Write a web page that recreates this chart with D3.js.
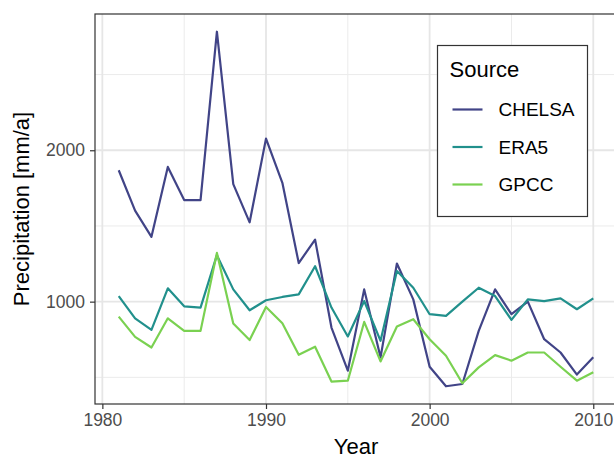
<!DOCTYPE html>
<html>
<head>
<meta charset="utf-8">
<script src="https://cdn.jsdelivr.net/npm/d3@7"></script>
<style>
  body { margin: 0; background: #fff; }
  svg { display: block; font-family: "Liberation Sans", Arial, sans-serif; }
</style>
</head>
<body>
<div id="chart"></div>
<script>
// values
const years = d3.range(1981, 2011);
const sources = ['CHELSA', 'ERA5', 'GPCC'];
const chelsa = [1868, 1601, 1428, 1890, 1671, 1671, 2783, 1776, 1524, 2077,
                1785, 1255, 1410, 829, 544, 1081, 632, 1252, 1015, 570,
                441, 456, 807, 1081, 917, 1000, 752, 664, 518, 632];
const era5 = [1037, 890, 814, 1088, 969, 961, 1307, 1081, 943, 1009,
              1031, 1048, 1234, 961, 770, 1004, 741, 1202, 1092, 917,
              906, 1000, 1092, 1037, 880, 1015, 1004, 1022, 950, 1022];
const gpcc = [901, 767, 697, 890, 807, 807, 1322, 855, 746, 965,
              857, 649, 702, 472, 478, 866, 605, 836, 884, 752,
              643, 461, 566, 647, 610, 664, 664, 570, 478, 533];
const xTicks = [1980, 1990, 2000, 2010];
const yTicks = [1000, 2000];
const colors = ['#414487', '#21908C', '#7AD151'];

const series = [chelsa, era5, gpcc].map((vals, i) => ({
    name: sources[i],
    color: colors[i],
    values: vals.map((v, j) => ({ year: years[j], value: v }))
}));

const width = 614, height = 457;
const panel = { left: 95, top: 14, right: 617, bottom: 404 };

const svg = d3.select('#chart').append('svg')
    .attr('width', width)
    .attr('height', height);

// ggplot style 5% expansion
const xExt = d3.extent(years);
const xPad = (xExt[1] - xExt[0]) * 0.05;
const allVals = chelsa.concat(era5, gpcc);
const yExt = d3.extent(allVals);
const yPad = (yExt[1] - yExt[0]) * 0.05;

const x = d3.scaleLinear()
    .domain([xExt[0] - xPad, xExt[1] + xPad])
    .range([panel.left, panel.right]);
const y = d3.scaleLinear()
    .domain([yExt[0] - yPad, yExt[1] + yPad])
    .range([panel.bottom, panel.top]);

// grid lines
const grid = svg.append('g');
const xMinor = [1985, 1995, 2005];
const yMinor = [500, 1500, 2500];
grid.selectAll('.vminor').data(xMinor).enter().append('line')
    .attr('x1', d => x(d)).attr('x2', d => x(d))
    .attr('y1', panel.top).attr('y2', panel.bottom)
    .attr('stroke', '#ebebeb').attr('stroke-width', 1);
grid.selectAll('.hminor').data(yMinor).enter().append('line')
    .attr('x1', panel.left).attr('x2', panel.right)
    .attr('y1', d => y(d)).attr('y2', d => y(d))
    .attr('stroke', '#ebebeb').attr('stroke-width', 1);
grid.selectAll('.vmajor').data(xTicks).enter().append('line')
    .attr('x1', d => x(d)).attr('x2', d => x(d))
    .attr('y1', panel.top).attr('y2', panel.bottom)
    .attr('stroke', '#e6e6e6').attr('stroke-width', 1.8);
grid.selectAll('.hmajor').data(yTicks).enter().append('line')
    .attr('x1', panel.left).attr('x2', panel.right)
    .attr('y1', d => y(d)).attr('y2', d => y(d))
    .attr('stroke', '#e6e6e6').attr('stroke-width', 1.8);

// lines
const line = d3.line()
    .x(d => x(d.year))
    .y(d => y(d.value));
svg.append('g').selectAll('path')
    .data(series)
    .enter().append('path')
    .attr('d', d => line(d.values))
    .attr('fill', 'none')
    .attr('stroke', d => d.color)
    .attr('stroke-width', 2.2)
    .attr('stroke-linejoin', 'round');

// panel border
svg.append('rect')
    .attr('x', panel.left).attr('y', panel.top)
    .attr('width', panel.right - panel.left)
    .attr('height', panel.bottom - panel.top)
    .attr('fill', 'none')
    .attr('stroke', '#333')
    .attr('stroke-width', 1.2);

// axes
const xAxis = svg.append('g')
    .attr('transform', `translate(0,${panel.bottom})`)
    .call(d3.axisBottom(x).tickValues(xTicks).tickFormat(d3.format('d')).tickSizeOuter(0).tickSize(5).tickPadding(5));
const yAxis = svg.append('g')
    .attr('transform', `translate(${panel.left},0)`)
    .call(d3.axisLeft(y).tickValues(yTicks).tickFormat(d3.format('d')).tickSizeOuter(0).tickSize(5).tickPadding(5));
[xAxis, yAxis].forEach(a => {
    a.select('.domain').remove();
    a.selectAll('.tick line').attr('stroke', '#333').attr('stroke-width', 1.2);
    a.selectAll('.tick text')
        .attr('fill', '#4d4d4d')
        .style('font-size', '17.5px')
        .style('font-family', '"Liberation Sans", Arial, sans-serif');
});

// axis titles
svg.append('text')
    .attr('x', (panel.left + panel.right) / 2)
    .attr('y', 454)
    .attr('text-anchor', 'middle')
    .style('font-size', '22px')
    .text('Year');
svg.append('text')
    .attr('transform', `translate(29,${(panel.top + panel.bottom) / 2}) rotate(-90)`)
    .attr('text-anchor', 'middle')
    .style('font-size', '22px')
    .text('Precipitation [mm/a]');

// legend
const legend = svg.append('g').attr('transform', 'translate(437.5,45.5)');
legend.append('rect')
    .attr('width', 150).attr('height', 171)
    .attr('fill', '#fff')
    .attr('stroke', '#333')
    .attr('stroke-width', 1.2);
legend.append('text')
    .attr('x', 12).attr('y', 31)
    .style('font-size', '22px')
    .text('Source');
const rows = legend.selectAll('.row')
    .data(series)
    .enter().append('g')
    .attr('transform', (d, i) => `translate(0,${64 + i * 37.5})`);
rows.append('line')
    .attr('x1', 15).attr('x2', 45)
    .attr('stroke', d => d.color)
    .attr('stroke-width', 2.2);
rows.append('text')
    .attr('x', 61).attr('dy', '0.36em')
    .style('font-size', '19px')
    .text(d => d.name);
</script>
</body>
</html>
